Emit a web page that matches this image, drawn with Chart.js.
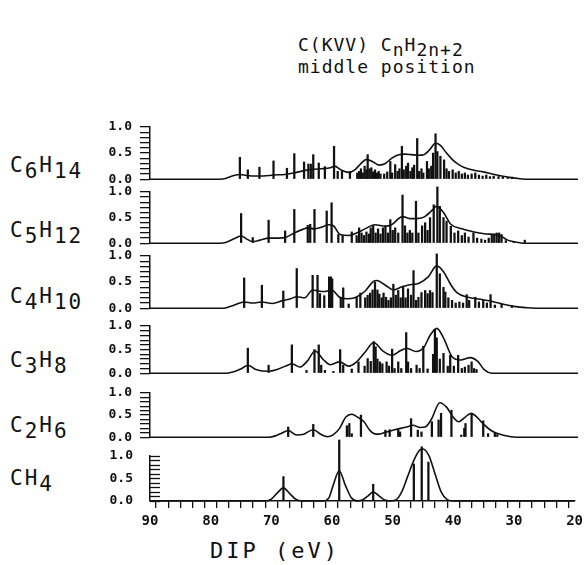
<!DOCTYPE html>
<html>
<head>
<meta charset="utf-8">
<title>C(KVV) CnH2n+2 middle position</title>
<script src="https://cdn.jsdelivr.net/npm/chart.js@4.4.1/dist/chart.umd.min.js"></script>
<style>
  body { margin: 0; background: #fff; }
  #page { position: relative; width: 588px; height: 565px; overflow: hidden; font-family: 'DejaVu Sans Mono', monospace; color: #111; }
  canvas { position: absolute; left: 0; }
  .txt { position: absolute; white-space: nowrap; line-height: 1; }
  .txt sub { font-size: 1em; vertical-align: -0.3em; line-height: 1; }
  .lbl { left: 10px; font-size: 21px; letter-spacing: 2px; }
  .ttl { left: 298px; font-size: 18px; letter-spacing: 1px; }
  .xt { left: 210px; top: 540px; font-size: 22px; letter-spacing: 3px; }
</style>
</head>
<body>
<div id="page">
  <div class="txt ttl" style="top:36px">C(KVV) C<sub>n</sub>H<sub>2n+2</sub></div>
  <div class="txt ttl" style="top:58px">middle position</div>
  <div class="txt lbl" style="top:155px">C<sub>6</sub>H<sub>14</sub></div>
  <div class="txt lbl" style="top:220px">C<sub>5</sub>H<sub>12</sub></div>
  <div class="txt lbl" style="top:286px">C<sub>4</sub>H<sub>10</sub></div>
  <div class="txt lbl" style="top:350px">C<sub>3</sub>H<sub>8</sub></div>
  <div class="txt lbl" style="top:415px">C<sub>2</sub>H<sub>6</sub></div>
  <div class="txt lbl" style="top:468px">CH<sub>4</sub></div>
  <div class="txt xt">DIP (eV)</div>
</div>
<script>
// stick spectra [DIP eV, intensity] and envelopes [DIP eV, intensity]
const c6h14Sticks = [[75.3,0.42],[74.0,0.18],[72.1,0.23],[69.8,0.35],[67.6,0.21],[66.4,0.49],[64.8,0.33],[64.1,0.29],[63.7,0.29],[63.3,0.47],[62.4,0.31],[61.4,0.24],[59.9,0.63],[59.3,0.15],[58.6,0.15],[57.3,0.15],
  [56.1,0.12],[55.8,0.15],[55.5,0.2],[55.2,0.12],[54.9,0.25],[54.6,0.18],[54.4,0.47],[54.1,0.2],[53.8,0.22],[53.5,0.14],[53.2,0.18],[52.9,0.12],[52.6,0.15],[52.3,0.1],[51.7,0.1],[51.2,0.14],[50.7,0.34],[50.4,0.12],
  [49.9,0.28],[49.5,0.15],[49.2,0.2],[48.8,0.63],[48.5,0.18],[48.1,0.25],[47.8,0.31],[47.4,0.15],[47.1,0.22],[46.8,0.27],[46.3,0.78],[46.0,0.15],[45.6,0.2],[45.3,0.12],[44.7,0.34],[44.4,0.2],[44.0,0.25],
  [43.7,0.5],[43.3,0.87],[43.0,0.53],[42.5,0.44],[41.9,0.37],[41.5,0.2],[41.1,0.15],[40.5,0.18],[40.0,0.12],[39.5,0.15],[39.0,0.1],[38.5,0.12],[38.0,0.08],[37.4,0.1],[36.8,0.12],[36.2,0.08],[35.6,0.06],
  [35.0,0.08],[34.4,0.05],[33.8,0.06],[33.0,0.05],[32.3,0.04],[31.5,0.03],[30.8,0.04]];
const c6h14Envelope = [[90,0],[78.5,0],[77.5,0.02],[76.3,0.07],[75.3,0.09],[74.2,0.07],[72.5,0.06],[70.5,0.07],[69.8,0.08],[68,0.09],[66.5,0.12],[65,0.16],[63.5,0.19],[62,0.2],[60.5,0.22],[59.8,0.25],
  [58.8,0.18],[57.5,0.13],[56.5,0.18],[55.5,0.3],[54.6,0.38],[53.5,0.33],[52.5,0.27],[51.5,0.3],[50.5,0.4],[49.3,0.47],[48.3,0.48],[47.2,0.47],[46.2,0.46],[45.2,0.47],[44.3,0.56],[43.3,0.69],[42.5,0.65],
  [41.5,0.5],[40.5,0.37],[39.5,0.28],[38.5,0.22],[37,0.17],[35.5,0.14],[34,0.1],[32.5,0.06],[31,0.03],[29.5,0.01],[28,0],[20,0]];

const c5h12Sticks = [[75.1,0.58],[73.2,0.11],[70.6,0.45],[67.9,0.24],[66.4,0.66],[64.2,0.35],[63.8,0.37],[63.1,0.66],[61.1,0.63],[60.3,0.79],[59.2,0.17],[58.5,0.15],[57.0,0.22],[56.2,0.15],[55.8,0.3],
  [55.4,0.2],[55.0,0.15],[54.6,0.22],[54.2,0.18],[53.9,0.3],[53.5,0.34],[53.1,0.2],[52.7,0.28],[52.3,0.18],[51.9,0.3],[51.5,0.34],[51.1,0.2],[50.7,0.46],[50.3,0.25],[49.9,0.3],[49.4,0.2],[48.7,0.94],
  [48.3,0.34],[47.9,0.2],[47.5,0.25],[47.1,0.2],[46.5,0.82],[46.1,0.2],[45.5,0.34],[45.0,0.4],[44.6,0.25],[44.2,0.5],[43.6,0.75],[43.0,1.1],[42.6,0.72],[42.0,0.5],[41.5,0.43],[40.8,0.33],[40.2,0.2],
  [39.6,0.24],[39.0,0.15],[38.5,0.2],[37.9,0.12],[37.1,0.2],[36.5,0.1],[35.8,0.08],[35.2,0.06],[34.6,0.1],[34.1,0.17],[33.7,0.18],[33.3,0.2],[32.9,0.2],[32.5,0.17],[31.8,0.05],[30.5,0.03],[28.7,0.06]];
const c5h12Envelope = [[90,0],[78.5,0],[77.5,0.02],[76,0.1],[75.1,0.14],[74,0.07],[73.2,0.03],[72,0.06],[70.6,0.1],[69,0.1],[67.9,0.11],[66.4,0.2],[65,0.27],[64.2,0.3],[63.1,0.28],[62,0.31],[60.8,0.36],
  [60,0.34],[58.9,0.17],[57.5,0.15],[56.2,0.2],[55,0.27],[53.2,0.36],[51.5,0.33],[50.5,0.36],[48.7,0.52],[47.5,0.48],[46.5,0.48],[45.2,0.51],[43.8,0.65],[43.2,0.72],[42,0.6],[40.8,0.37],[39,0.28],
  [37,0.22],[35,0.18],[33.5,0.17],[32.5,0.13],[31.5,0.06],[30,0.02],[29,0],[20,0]];

const c4h10Sticks = [[74.6,0.58],[71.7,0.44],[68.2,0.33],[66.0,0.76],[63.4,0.63],[62.6,0.63],[62.2,0.28],[61.5,0.24],[60.7,0.6],[60.4,0.6],[60.2,0.56],[58.8,0.21],[58.4,0.39],[57.5,0.08],[56.2,0.21],
  [55.6,0.29],[54.8,0.2],[54.4,0.25],[54.0,0.29],[53.6,0.35],[53.2,0.5],[52.8,0.35],[52.5,0.27],[52.1,0.2],[51.8,0.29],[51.4,0.21],[51.0,0.15],[50.6,0.2],[50.2,0.46],[49.8,0.25],[49.4,0.34],[49.0,0.2],
  [48.6,0.4],[48.2,0.2],[47.8,0.37],[47.3,0.25],[46.9,0.72],[46.5,0.15],[46.1,0.21],[45.6,0.3],[45.0,0.34],[44.6,0.28],[44.2,0.34],[43.8,0.3],[43.1,1.04],[42.6,0.66],[42.0,0.4],[41.7,0.31],[41.2,0.2],
  [40.6,0.15],[40.0,0.1],[39.4,0.12],[38.8,0.1],[38.2,0.26],[37.8,0.15],[36.8,0.21],[36.2,0.12],[35.5,0.15],[34.9,0.1],[34.3,0.26],[33.6,0.06],[32.5,0.08],[30.8,0.05]];
const c4h10Envelope = [[90,0],[78.5,0],[77.5,0.01],[76.2,0.06],[74.6,0.12],[73.2,0.1],[71.7,0.12],[70,0.09],[68.2,0.15],[67,0.18],[66,0.22],[64.7,0.2],[63.4,0.35],[62.5,0.33],[61.4,0.32],[60.3,0.35],
  [59,0.21],[57.8,0.18],[56.5,0.2],[54.8,0.33],[53.5,0.51],[52.9,0.53],[51.5,0.44],[50.2,0.35],[48.8,0.41],[47.5,0.45],[46,0.48],[44.5,0.6],[43.1,0.81],[42,0.7],[40.8,0.45],[39.8,0.3],[38,0.21],
  [36,0.17],[34,0.13],[32,0.07],[30.2,0.03],[28.5,0.01],[27,0],[20,0]];

const c3h8Sticks = [[74.0,0.53],[70.6,0.17],[66.8,0.6],[64.4,0.06],[63.1,0.5],[62.4,0.6],[62.0,0.17],[61.4,0.06],[60.0,0.04],[58.9,0.5],[58.4,0.17],[57.0,0.09],[55.9,0.24],[54.9,0.15],[54.4,0.31],
  [53.9,0.25],[53.4,0.67],[53.1,0.56],[52.8,0.3],[52.4,0.24],[52.0,0.2],[51.3,0.24],[50.9,0.15],[50.4,0.51],[50.0,0.1],[49.4,0.24],[48.9,0.1],[48.1,0.86],[47.8,0.24],[47.3,0.1],[46.4,0.17],[45.9,0.1],
  [45.3,0.57],[44.6,0.09],[43.7,0.4],[43.4,0.93],[43.1,0.75],[42.6,0.3],[42.0,0.42],[41.3,0.15],[40.9,0.38],[40.3,0.15],[39.6,0.38],[39.0,0.1],[38.5,0.13],[37.9,0.17],[37.4,0.24],[37.0,0.1],[36.6,0.08]];
const c3h8Envelope = [[90,0],[77.5,0],[76.3,0.03],[75,0.1],[74,0.17],[72.7,0.08],[70.6,0.04],[69,0.09],[67.5,0.17],[66.8,0.2],[65.5,0.13],[64.3,0.25],[63,0.47],[61.6,0.28],[60.5,0.18],[59,0.24],
  [57.5,0.15],[56.3,0.23],[54.8,0.45],[53.4,0.65],[52,0.48],[50.4,0.38],[49,0.48],[48,0.53],[46.5,0.46],[45.2,0.55],[44.2,0.8],[43.1,0.95],[42,0.75],[40.6,0.35],[39.2,0.28],[37.6,0.33],[36.4,0.25],
  [35.3,0.07],[34.1,0],[20,0]];

const c2h6Sticks = [[67.4,0.23],[63.3,0.29],[57.8,0.26],[57.4,0.31],[57.0,0.08],[55.5,0.5],[51.5,0.16],[50.8,0.17],[49.4,0.17],[49.1,0.12],[47.3,0.42],[46.2,0.16],[45.6,0.12],[43.9,0.35],[42.8,0.39],
  [42.4,0.54],[40.7,0.61],[39.1,0.05],[38.6,0.2],[38.4,0.31],[37.4,0.54],[35.5,0.37],[34.7,0.08],[33.6,0.1],[33.2,0.06]];
const c2h6Envelope = [[90,0],[70.5,0],[69.5,0.03],[68.5,0.09],[67.4,0.15],[66,0.05],[65,0.06],[63.3,0.17],[62,0.06],[61,0.01],[60,0.06],[59,0.2],[58,0.45],[57,0.52],[56,0.45],[55,0.35],[54,0.15],
  [53,0.07],[52.5,0.07],[51.5,0.11],[50,0.17],[48,0.23],[47,0.27],[45.8,0.22],[45,0.23],[44,0.4],[42.6,0.78],[41.5,0.68],[40.5,0.47],[39.5,0.35],[38.5,0.45],[37.5,0.54],[36.5,0.45],[35.5,0.3],
  [34.5,0.18],[33.5,0.1],[32,0.04],[31,0.01],[30,0],[20,0]];

const ch4Sticks = [[68.0,0.54],[58.8,1.35],[53.2,0.37],[46.5,0.82],[45.2,1.2],[44.1,0.86]];
const ch4Envelope = [[90,0],[71,0],[70,0.04],[69,0.18],[68,0.29],[67,0.17],[66,0.04],[65,0],[61.5,0],[60.5,0.07],[59.8,0.35],[58.8,0.67],[57.8,0.35],[56.8,0.07],[55.8,0],[55,0.02],[54,0.12],
  [53.2,0.2],[52.3,0.12],[51.3,0.02],[50.5,0],[49.5,0.02],[48.5,0.2],[47.5,0.55],[46.5,0.9],[45.5,1.13],[45,1.15],[44,1.0],[43,0.6],[42,0.2],[41,0.03],[40,0],[20,0]];

const yTickLabels = [0, 0.5, 1.0];
const xTickLabels = [90, 80, 70, 60, 50, 40, 30, 20];

// pixel rows of each panel: y of the 1.0 tick and of the 0.0 baseline
const panels = [
  { sticks: c6h14Sticks, env: c6h14Envelope, top: 127, base: 179 },
  { sticks: c5h12Sticks, env: c5h12Envelope, top: 192, base: 243 },
  { sticks: c4h10Sticks, env: c4h10Envelope, top: 256, base: 308 },
  { sticks: c3h8Sticks, env: c3h8Envelope, top: 326, base: 373 },
  { sticks: c2h6Sticks, env: c2h6Envelope, top: 393, base: 437 },
  { sticks: ch4Sticks, env: ch4Envelope, top: 456, base: 501 }
];

Chart.defaults.font.family = "'DejaVu Sans Mono', monospace";
Chart.defaults.color = '#111';

const INK = '#111';
const page = document.getElementById('page');

// CH4 panel has its y ticks pointing into the plot
const inwardTicks = {
  id: 'inwardTicks',
  afterDraw(chart, args, opts) {
    if (!opts.on) return;
    const y = chart.scales.y, ctx = chart.ctx, left = chart.chartArea.left;
    ctx.save();
    ctx.strokeStyle = INK;
    ctx.lineWidth = 1.3;
    y.ticks.forEach(t => {
      const py = Math.round(y.getPixelForValue(t.value)) + 0.5;
      ctx.beginPath();
      ctx.moveTo(left, py);
      ctx.lineTo(left + 10, py);
      ctx.stroke();
    });
    ctx.restore();
  }
};

function drawPanel(p, isBottom) {
  const padT = 22, padB = 10, axisH = 34;
  const canvas = document.createElement('canvas');
  canvas.width = 588;
  canvas.height = p.base - p.top + padT + (isBottom ? axisH : padB);
  canvas.style.top = (p.top - padT) + 'px';
  page.appendChild(canvas);

  const chart = new Chart(canvas, {
    data: {
      datasets: [
        {
          type: 'line',
          data: p.env.map(([x, y]) => ({ x, y })),
          borderColor: INK,
          borderWidth: 1.6,
          pointRadius: 0,
          cubicInterpolationMode: 'monotone',
          clip: false
        },
        {
          type: 'bar',
          data: p.sticks.map(([x, y]) => ({ x, y })),
          backgroundColor: INK,
          barThickness: 1.6,
          clip: false
        }
      ]
    },
    options: {
      responsive: false,
      maintainAspectRatio: false,
      animation: false,
      events: [],
      layout: { padding: { top: padT, right: 10, bottom: isBottom ? 0 : padB, left: 0 } },
      plugins: {
        legend: { display: false },
        tooltip: { enabled: false },
        inwardTicks: { on: isBottom }
      },
      scales: {
        x: {
          type: 'linear',
          min: 20,
          max: 90,
          reverse: true,
          offset: false,
          display: isBottom,
          afterFit: s => { if (isBottom) s.height = axisH; },
          border: { display: true, color: INK, width: 1.5 },
          grid: { drawOnChartArea: false, drawTicks: true, tickLength: 7, color: INK, lineWidth: 1.3 },
          ticks: {
            stepSize: 2,
            autoSkip: false,
            maxRotation: 0,
            padding: 5,
            font: { size: 14, weight: 'bold' },
            callback: v => xTickLabels.includes(v) ? String(v) : ''
          }
        },
        y: {
          min: 0,
          max: 1,
          afterFit: s => { s.width = 150; },
          border: { display: true, color: INK, width: 1.5 },
          grid: { drawOnChartArea: false, drawTicks: !isBottom, tickLength: 10, color: INK, lineWidth: 1.3 },
          ticks: {
            stepSize: 0.1,
            autoSkip: false,
            padding: isBottom ? 17 : 8,
            font: { size: 13, weight: 'bold' },
            callback: v => yTickLabels.some(t => Math.abs(t - v) < 1e-6) ? v.toFixed(1) : ''
          }
        }
      }
    },
    plugins: [inwardTicks]
  });

  // the layout can eat a few pixels for tick labels: grow the canvas so 0..1 spans the wanted rows
  const area = chart.chartArea;
  const extra = Math.round((p.base - p.top) - (area.bottom - area.top));
  if (extra !== 0) chart.resize(588, canvas.height + extra);
  canvas.style.top = Math.round(p.top - chart.chartArea.top) + 'px';
}

panels.forEach((p, i) => drawPanel(p, i === panels.length - 1));
</script>
</body>
</html>
